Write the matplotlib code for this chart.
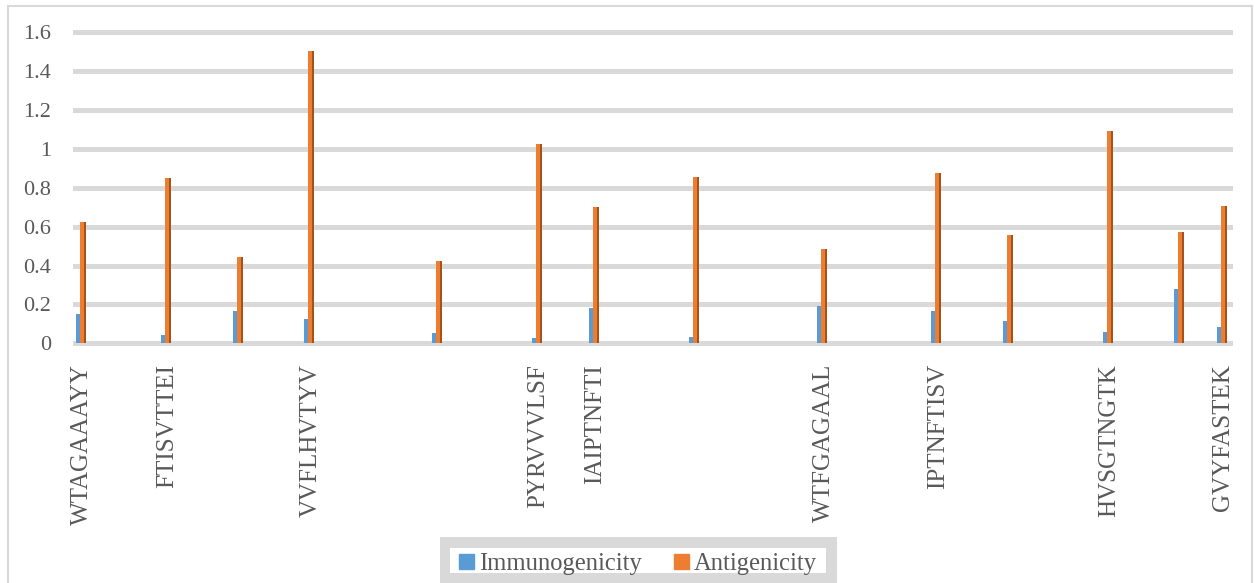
import matplotlib.pyplot as plt
from matplotlib.patches import Rectangle

# peptide epitopes; blank names are categories whose label is not printed
peptides = ['WTAGAAAYY', 'FTISVTTEI', '', 'VVFLHVTYV', '', 'PYRVVVLSF', 'IAIPTNFTI',
            '', 'WTFGAGAAL', 'IPTNFTISV', '', 'HVSGTNGTK', '', 'GVYFASTEK']
category_index = [0, 6, 11, 16, 25, 32, 36, 43, 52, 60, 65, 72, 77, 80]
n_categories = 81
immunogenicity = [0.149, 0.043, 0.168, 0.123, 0.051, 0.027, 0.180,
                  0.034, 0.193, 0.166, 0.113, 0.058, 0.278, 0.085]
antigenicity = [0.626, 0.849, 0.446, 1.505, 0.425, 1.024, 0.700,
                0.855, 0.485, 0.876, 0.556, 1.090, 0.574, 0.706]

blue = '#5B9BD5'
orange = '#ED7D31'
orange_side = '#A5521B'
grid_col = '#D9D9D9'
text_col = '#595959'
serif = ['Liberation Serif', 'DejaVu Serif']

fig = plt.figure(figsize=(12.55, 5.83), dpi=100)
ax = fig.add_axes([75 / 1255, 1 - 343.3 / 583, (1230 - 75) / 1255, (343.3 - 32.3) / 583])

x = category_index
ax.bar([i - 0.30 for i in x], immunogenicity, width=0.28, color=blue, zorder=3)
ax.bar([i - 0.02 for i in x], antigenicity, width=0.28, color=orange, zorder=4)
ax.bar([i + 0.19 for i in x], antigenicity, width=0.14, color=orange_side, zorder=4)

ax.set_xlim(-0.5, n_categories - 0.5)
ax.set_ylim(0, 1.6)
ax.set_yticks([0, 0.2, 0.4, 0.6, 0.8, 1, 1.2, 1.4, 1.6])
ax.set_yticklabels(['0', '0.2', '0.4', '0.6', '0.8', '1', '1.2', '1.4', '1.6'],
                   family=serif, fontsize=16, color=text_col)
ax.set_xticks(x)
ax.set_xticklabels(peptides, rotation=90, family=serif, fontsize=18,
                   color=text_col, va='top', ha='center')
ax.tick_params(axis='both', length=0)
ax.tick_params(axis='y', pad=17)
ax.tick_params(axis='x', pad=15)

ax.set_axisbelow(True)
ax.yaxis.grid(True, color=grid_col, linewidth=3.6)
for line in ax.get_ygridlines():
    line.set_clip_on(False)
for s in ax.spines.values():
    s.set_visible(False)

# chart border
fig.patches.append(Rectangle((8 / 1255, -0.02), 1244 / 1255, 1.02 - 6 / 583,
                             transform=fig.transFigure, fill=False,
                             edgecolor=grid_col, linewidth=1.5))
# legend box: gray band with white inner panel
fig.patches.append(Rectangle((440 / 1255, 0), 397 / 1255, 46 / 583,
                             transform=fig.transFigure, facecolor=grid_col,
                             edgecolor='none'))
fig.patches.append(Rectangle((450 / 1255, 10 / 583), 376 / 1255, 25 / 583,
                             transform=fig.transFigure, facecolor='white',
                             edgecolor='none'))

handles = [Rectangle((0, 0), 1, 1, color=blue), Rectangle((0, 0), 1, 1, color=orange)]
leg = fig.legend(handles, ['Immunogenicity', 'Antigenicity'], loc='center',
                 bbox_to_anchor=(638 / 1255, 19 / 583), ncol=2, frameon=False,
                 prop={'family': serif, 'size': 17.7}, handlelength=0.6,
                 handleheight=0.6, handletextpad=0.2, columnspacing=1.3,
                 borderpad=0)
for t in leg.get_texts():
    t.set_color(text_col)

fig.savefig('out.png', dpi=100)
